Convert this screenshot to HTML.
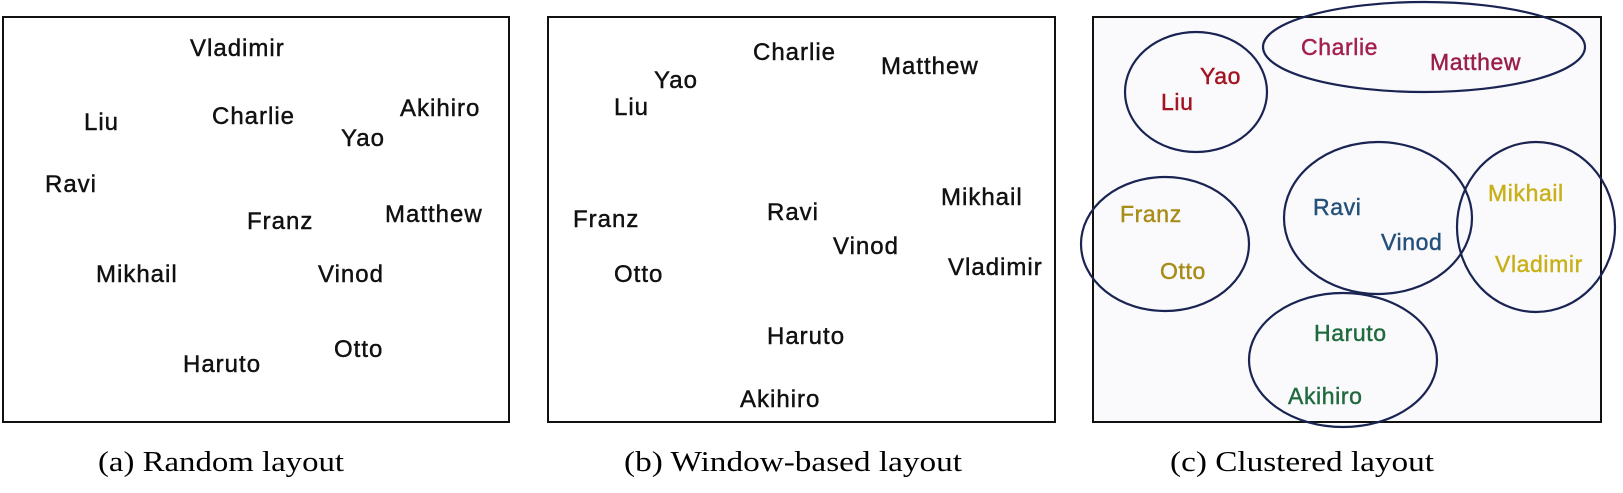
<!DOCTYPE html>
<html><head><meta charset="utf-8"><style>
html,body{margin:0;padding:0;background:#fff}
svg{display:block}
.n{font-family:"Liberation Sans",sans-serif;font-size:24px;letter-spacing:1px;fill:#111;stroke:#111;stroke-width:0.45px}
.c{font-family:"Liberation Sans",sans-serif;font-size:23px;letter-spacing:0.6px;stroke-width:0.45px}
.cap{font-family:"Liberation Serif",serif;font-size:28px;fill:#000}
</style></head><body>
<svg width="1623" height="493" viewBox="0 0 1623 493" xmlns="http://www.w3.org/2000/svg">
<rect x="3" y="17" width="506" height="405" fill="#fff" stroke="#111" stroke-width="2"/>
<rect x="548" y="17" width="507" height="405" fill="#fff" stroke="#111" stroke-width="2"/>
<rect x="1093" y="17" width="508" height="405" fill="#fafafd" stroke="#111" stroke-width="2"/>

<g class="n">
<text x="190" y="56">Vladimir</text>
<text x="212" y="124">Charlie</text>
<text x="400" y="116">Akihiro</text>
<text x="84" y="130">Liu</text>
<text x="341" y="146">Yao</text>
<text x="45" y="192">Ravi</text>
<text x="247" y="229">Franz</text>
<text x="385" y="222">Matthew</text>
<text x="96" y="282">Mikhail</text>
<text x="318" y="282">Vinod</text>
<text x="334" y="357">Otto</text>
<text x="183" y="372">Haruto</text>

<text x="753" y="60">Charlie</text>
<text x="881" y="74">Matthew</text>
<text x="654" y="88">Yao</text>
<text x="614" y="115">Liu</text>
<text x="941" y="205">Mikhail</text>
<text x="573" y="227">Franz</text>
<text x="767" y="220">Ravi</text>
<text x="833" y="254">Vinod</text>
<text x="948" y="275">Vladimir</text>
<text x="614" y="282">Otto</text>
<text x="767" y="344">Haruto</text>
<text x="740" y="407">Akihiro</text>
</g>

<g class="c">
<text x="1301" y="55" fill="#a3204c" stroke="#a3204c">Charlie</text>
<text x="1430" y="70" fill="#9a1f48" stroke="#9a1f48">Matthew</text>
<text x="1200" y="84" fill="#a31420" stroke="#a31420">Yao</text>
<text x="1161" y="110" fill="#a31420" stroke="#a31420">Liu</text>
<text x="1120" y="222" fill="#a88c18" stroke="#a88c18">Franz</text>
<text x="1160" y="279" fill="#a88c18" stroke="#a88c18">Otto</text>
<text x="1313" y="215" fill="#24507a" stroke="#24507a">Ravi</text>
<text x="1381" y="250" fill="#24507a" stroke="#24507a">Vinod</text>
<text x="1488" y="201" fill="#c9b018" stroke="#c9b018">Mikhail</text>
<text x="1495" y="272" fill="#c9b018" stroke="#c9b018">Vladimir</text>
<text x="1314" y="341" fill="#1f6b3e" stroke="#1f6b3e">Haruto</text>
<text x="1288" y="404" fill="#1f6b3e" stroke="#1f6b3e">Akihiro</text>
</g>

<g fill="none" stroke="#1a2452" stroke-width="2.2">
<ellipse cx="1196" cy="92" rx="71" ry="60"/>
<ellipse cx="1424" cy="47" rx="161" ry="45"/>
<ellipse cx="1165" cy="244" rx="84" ry="67"/>
<ellipse cx="1378" cy="218" rx="94" ry="76"/>
<ellipse cx="1536" cy="227" rx="79" ry="85"/>
<ellipse cx="1343" cy="360" rx="94" ry="67"/>
</g>

<text class="cap" x="98" y="471" textLength="246" lengthAdjust="spacingAndGlyphs">(a) Random layout</text>
<text class="cap" x="624" y="471" textLength="338" lengthAdjust="spacingAndGlyphs">(b) Window-based layout</text>
<text class="cap" x="1170" y="471" textLength="264" lengthAdjust="spacingAndGlyphs">(c) Clustered layout</text>
</svg>
</body></html>
